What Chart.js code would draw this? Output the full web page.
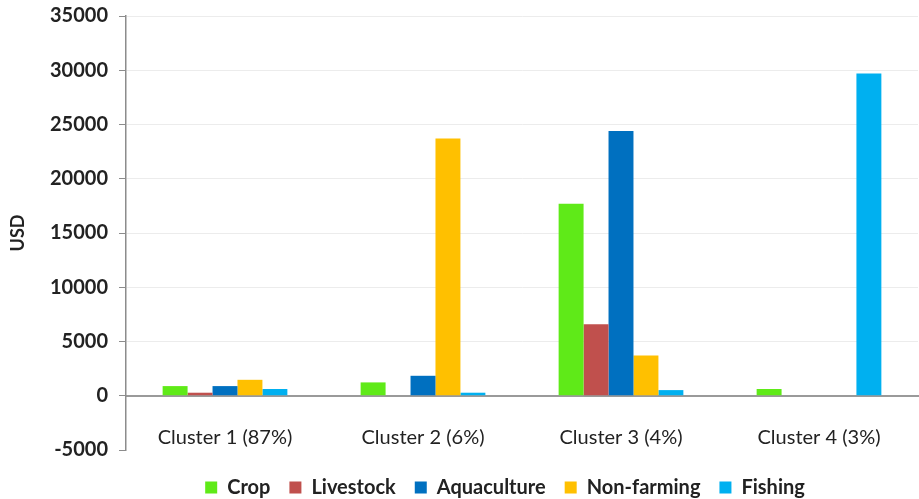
<!DOCTYPE html>
<html>
<head>
<meta charset="utf-8">
<script src="https://cdn.jsdelivr.net/npm/chart.js@4"></script>
<style>
  html, body { margin: 0; padding: 0; background: #ffffff; }
  #wrap { width: 919px; height: 499px; }
</style>
</head>
<body>
<div id="wrap"><canvas id="chart" width="919" height="499"></canvas></div>
<script>
// Average income by source for each household cluster (USD)
const clusters = ['Cluster 1 (87%)', 'Cluster 2 (6%)', 'Cluster 3 (4%)', 'Cluster 4 (3%)'];
const crop        = [890, 1230, 17700, 620];
const livestock   = [280, 0, 6600, 0];
const aquaculture = [890, 1840, 24400, 0];
const nonFarming  = [1470, 23700, 3700, 0];
const fishing     = [620, 280, 520, 29700];
const yTicks      = [-5000, 0, 5000, 10000, 15000, 20000, 25000, 30000, 35000];

const FONT = 'Lato, "Open Sans", sans-serif';
const TEXT = '#222222';

// Places the legend row centred under the bars, near the bottom edge
const legendPlacer = {
  id: 'legendPlacer',
  afterUpdate(chart) {
    const lg = chart.legend;
    if (!lg) return;
    const dx = 505 - (lg.left + lg.right) / 2;
    const dy = 483 - (lg.top + lg.bottom) / 2;
    lg.left += dx; lg.right += dx;
    lg.top += dy; lg.bottom += dy;
    lg.adjustHitBoxes();
  }
};

new Chart(document.getElementById('chart'), {
  type: 'bar',
  data: {
    labels: clusters,
    datasets: [
      { label: 'Crop',        data: crop,        backgroundColor: '#5FEA18' },
      { label: 'Livestock',   data: livestock,   backgroundColor: '#C0504D' },
      { label: 'Aquaculture', data: aquaculture, backgroundColor: '#0070C0' },
      { label: 'Non-farming', data: nonFarming,  backgroundColor: '#FFC000' },
      { label: 'Fishing',     data: fishing,     backgroundColor: '#00B0F0' }
    ]
  },
  options: {
    responsive: false,
    animation: false,
    devicePixelRatio: 1,
    layout: { padding: { top: 16, right: 1, bottom: 0, left: 0 } },
    datasets: { bar: { categoryPercentage: 0.63, barPercentage: 1.0, borderWidth: 0 } },
    plugins: {
      tooltip: { enabled: false },
      legend: {
        position: 'bottom',
        maxHeight: 50,
        labels: {
          boxWidth: 12,
          boxHeight: 12,
          padding: 19,
          color: TEXT,
          font: { family: FONT, size: 20, weight: 'bold' }
        }
      }
    },
    scales: {
      x: {
        position: { y: 0 },
        grid: { display: true, drawOnChartArea: false, drawTicks: false },
        border: { display: true, color: '#9a9a9a', width: 2 },
        ticks: {
          padding: 30,
          color: TEXT,
          font: { family: FONT, size: 20 }
        }
      },
      y: {
        min: -5000,
        max: 35000,
        afterFit(scale) {
          scale.width = 126;
          scale.paddingTop = 0;
          scale.paddingBottom = 0;
        },
        afterBuildTicks(scale) { scale.ticks = yTicks.map(v => ({ value: v })); },
        grid: {
          color: ctx => (ctx.tick && ctx.tick.value === -5000) ? 'rgba(0,0,0,0)' : '#ececec',
          lineWidth: 1,
          tickLength: 7,
          tickColor: '#8c8c8c'
        },
        border: { display: true, color: '#8c8c8c', width: 1.5 },
        ticks: {
          padding: 11,
          color: TEXT,
          font: { family: FONT, size: 20, weight: 'bold' },
          callback: v => String(v)
        },
        title: {
          display: true,
          text: 'USD',
          color: TEXT,
          padding: { top: 7, bottom: 0 },
          font: { family: FONT, size: 18, weight: 'bold' }
        }
      }
    }
  },
  plugins: [legendPlacer]
});
</script>
</body>
</html>
